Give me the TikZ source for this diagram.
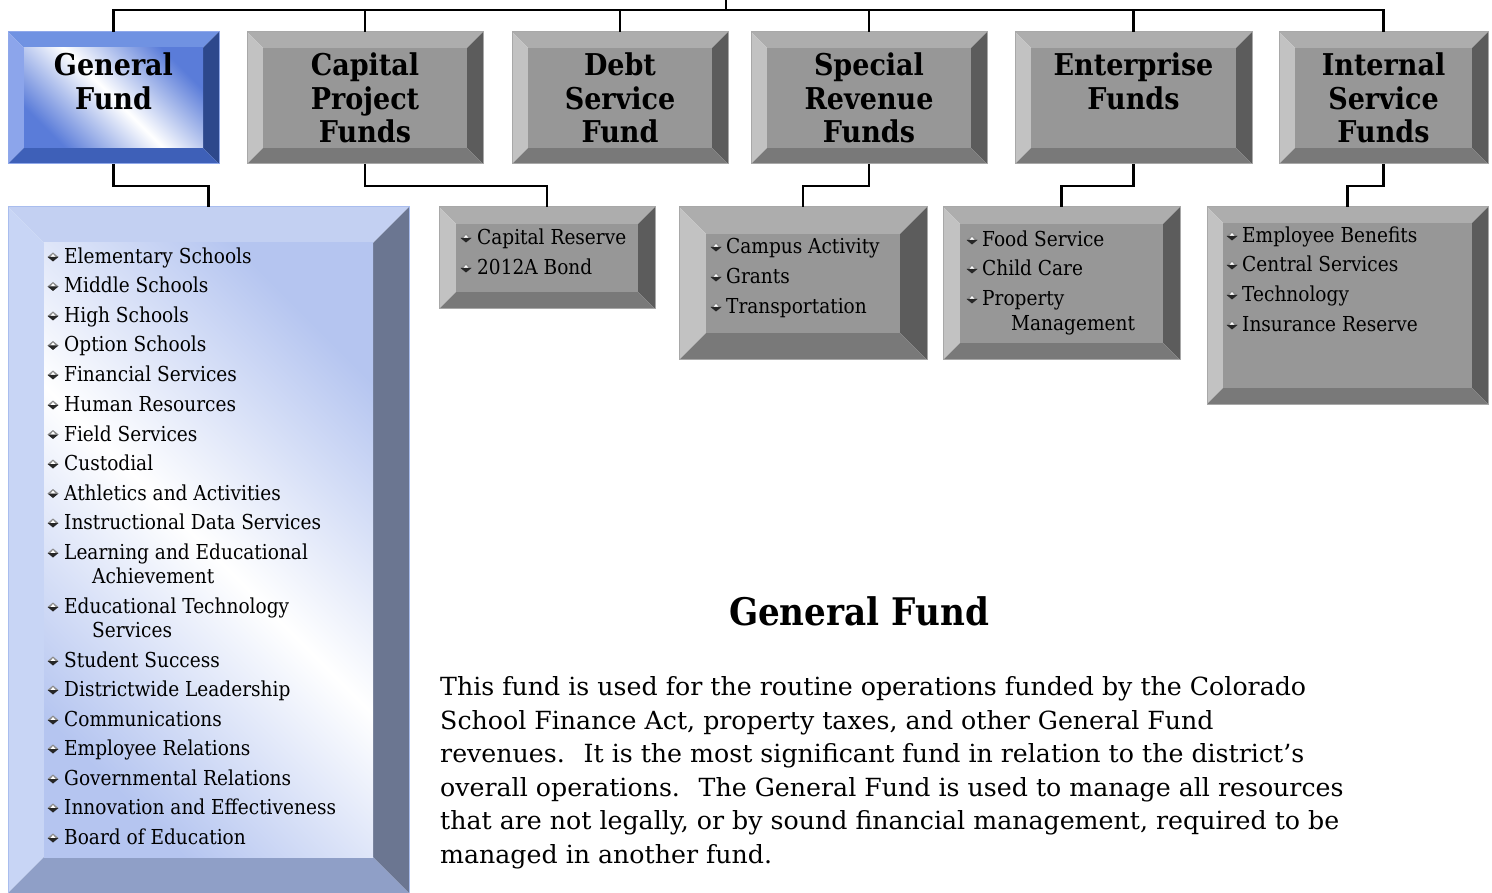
\documentclass[tikz,border=0pt]{standalone}
\usepackage{fontspec}
\setmainfont{DejaVu Serif}[FakeStretch=0.9]
\newfontfamily\parfont{DejaVu Serif}[FakeStretch=1.01]
\usetikzlibrary{calc}
\definecolor{gtop}{HTML}{ADADAD}
\definecolor{gleft}{HTML}{C2C2C2}
\definecolor{gright}{HTML}{5C5C5C}
\definecolor{gbot}{HTML}{797979}
\definecolor{gface}{HTML}{979797}
\definecolor{gline}{HTML}{A8A8A8}
\definecolor{btop}{HTML}{7092E2}
\definecolor{bleft}{HTML}{8CA5EB}
\definecolor{bright}{HTML}{2D488C}
\definecolor{bbot}{HTML}{3E60B8}
\definecolor{bface}{HTML}{5A7CD9}
\definecolor{bline}{HTML}{8FA8EA}
\definecolor{ltop}{HTML}{C3D0F2}
\definecolor{lleft}{HTML}{C8D5F5}
\definecolor{lright}{HTML}{6B7691}
\definecolor{lbot}{HTML}{8F9FC7}
\definecolor{lface}{HTML}{B5C5F0}
\definecolor{lline}{HTML}{A9BDEE}
\newcommand\bevelbox[8]{%
 % #1 name, #2 bevel, #3 top, #4 left, #5 right, #6 bottom, #7 face style, #8 outline
 \fill[#3] (#1.north west) -- (#1.north east) -- ([shift={(-#2,#2)}]#1.north east) -- ([shift={(#2,#2)}]#1.north west) -- cycle;
 \fill[#4] (#1.north west) -- ([shift={(#2,#2)}]#1.north west) -- ([shift={(#2,-#2)}]#1.south west) -- (#1.south west) -- cycle;
 \fill[#5] (#1.north east) -- ([shift={(-#2,#2)}]#1.north east) -- ([shift={(-#2,-#2)}]#1.south east) -- (#1.south east) -- cycle;
 \fill[#6] (#1.south west) -- ([shift={(#2,-#2)}]#1.south west) -- ([shift={(-#2,-#2)}]#1.south east) -- (#1.south east) -- cycle;
 \path[#7] ([shift={(#2,#2)}]#1.north west) rectangle ([shift={(-#2,-#2)}]#1.south east);
 \draw[#8, line width=1pt] (#1.north west) rectangle (#1.south east);
}
\newcommand\bul[2]{%
 \fill[black!45] (#1-5.5,#2) -- (#1,#2-4.5) -- (#1+5.5,#2) -- cycle;
 \fill[white] (#1-2.5,#2) -- (#1,#2-3) -- (#1+2.5,#2) -- cycle;
 \fill[black!85] (#1-5.5,#2) -- (#1,#2+4.5) -- (#1+5.5,#2) -- cycle;
}
\tikzset{
 boxnode/.style={rectangle, draw=none, inner sep=0pt, outer sep=0pt, anchor=north west},
 conn/.style={line width=2.2pt, black},
 tl/.style={anchor=base, inner sep=0pt, font=\fontsize{30}{34}\selectfont\bfseries},
 lt/.style={anchor=base west, inner sep=0pt, font=\fontsize{20.6}{24}\selectfont},
 pt/.style={anchor=base west, inner sep=0pt, font=\parfont\fontsize{25}{30}\selectfont},
 ttl/.style={anchor=base, inner sep=0pt, font=\fontsize{38}{42}\selectfont\bfseries},
 grayface/.style={fill=gface},
 blueface/.style={shade, top color=bface, bottom color=bface, middle color=white, shading angle=-45},
 lightface/.style={shade, top color=lface, bottom color=lface, middle color=white, shading angle=-45},
}
\begin{document}
\begin{tikzpicture}[x=1pt,y=-1pt]
\useasboundingbox (0,0) rectangle (1492,893);
% top-row boxes
\node[boxnode, minimum width=211, minimum height=132] (gf) at (8,32) {};
\node[boxnode, minimum width=236, minimum height=132] (cp) at (247,32) {};
\node[boxnode, minimum width=216, minimum height=132] (ds) at (512,32) {};
\node[boxnode, minimum width=236, minimum height=132] (sr) at (751,32) {};
\node[boxnode, minimum width=237, minimum height=132] (ef) at (1015,32) {};
\node[boxnode, minimum width=209, minimum height=132] (is) at (1279,32) {};
% second-row boxes
\node[boxnode, minimum width=401, minimum height=686] (gfl) at (8,207) {};
\node[boxnode, minimum width=216, minimum height=102] (cpl) at (439,207) {};
\node[boxnode, minimum width=248, minimum height=153] (srl) at (679,207) {};
\node[boxnode, minimum width=237, minimum height=153] (efl) at (943,207) {};
\node[boxnode, minimum width=281, minimum height=197] (isl) at (1207,207) {};

\bevelbox{gf}{16}{btop}{bleft}{bright}{bbot}{blueface}{bline}
\foreach \n in {cp,ds,sr,ef,is} {\bevelbox{\n}{16}{gtop}{gleft}{gright}{gbot}{grayface}{gline}}
\bevelbox{gfl}{36}{ltop}{lleft}{lright}{lbot}{lightface}{lline}
\bevelbox{cpl}{17}{gtop}{gleft}{gright}{gbot}{grayface}{gline}
\bevelbox{srl}{27}{gtop}{gleft}{gright}{gbot}{grayface}{gline}
\bevelbox{efl}{17}{gtop}{gleft}{gright}{gbot}{grayface}{gline}
\bevelbox{isl}{16}{gtop}{gleft}{gright}{gbot}{grayface}{gline}

% connectors
\coordinate (root) at (726,0);
\coordinate (bus) at (726,10);
\draw[conn] (root) -- (bus);
\foreach \n in {gf,cp,ds,sr,ef,is} {\draw[conn] (\n.north) |- (bus);}
\foreach \a/\b in {gf/gfl,cp/cpl,sr/srl,ef/efl,is/isl} {\draw[conn] (\a.south) -- ++(0,22) -| (\b.north);}

% top labels
\node[tl] (gft1) at (113.5,76) {General};
\node[tl] (gft2) at (113.5,109.5) {Fund};
\node[tl] (cpt1) at (365,76) {Capital};
\node[tl] (cpt2) at (365,109.5) {Project};
\node[tl] (cpt3) at (365,143) {Funds};
\node[tl] (dst1) at (620,76) {Debt};
\node[tl] (dst2) at (620,109.5) {Service};
\node[tl] (dst3) at (620,143) {Fund};
\node[tl] (srt1) at (869,76) {Special};
\node[tl] (srt2) at (869,109.5) {Revenue};
\node[tl] (srt3) at (869,143) {Funds};
\node[tl] (eft1) at (1133.5,76) {Enterprise};
\node[tl] (eft2) at (1133.5,109.5) {Funds};
\node[tl] (ist1) at (1383.5,76) {Internal};
\node[tl] (ist2) at (1383.5,109.5) {Service};
\node[tl] (ist3) at (1383.5,143) {Funds};

% general fund list
\foreach \t/\y [count=\i] in {Elementary Schools/256, Middle Schools/285.5, High Schools/315, Option Schools/344.5, Financial Services/374, Human Resources/404, Field Services/433.5, Custodial/463, Athletics and Activities/492.5, Instructional Data Services/522, Learning and Educational/552, Educational Technology/606, Student Success/660, Districtwide Leadership/689, Communications/719, Employee Relations/748, Governmental Relations/778, Innovation and Effectiveness/807, Board of Education/837} {
  \bul{53}{\y+1}
  \node[lt] (g\i) at (64,\y+7.5) {\t};
}
\node[lt] (gc1) at (92,583.5) {Achievement};
\node[lt] (gc2) at (92,637.5) {Services};

% capital list
\foreach \t/\y [count=\i] in {Capital Reserve/237, 2012A Bond/267} {
  \bul{466}{\y+1}
  \node[lt] (c\i) at (477,\y+7.5) {\t};
}
% special revenue list
\foreach \t/\y [count=\i] in {Campus Activity/246, Grants/276, Transportation/306} {
  \bul{716}{\y+1}
  \node[lt] (s\i) at (726,\y+7.5) {\t};
}
% enterprise list
\foreach \t/\y [count=\i] in {Food Service/239, Child Care/268, Property/298} {
  \bul{972}{\y+1}
  \node[lt] (e\i) at (982,\y+7.5) {\t};
}
\node[lt] (ec1) at (1011,330.5) {Management};
% internal list
\foreach \t/\y [count=\i] in {Employee Benefits/235, Central Services/264, Technology/294, Insurance Reserve/324} {
  \bul{1232}{\y+1}
  \node[lt] (n\i) at (1242,\y+7.5) {\t};
}

% title and paragraph
\node[ttl] (title) at (859,625) {General Fund};
\foreach \t/\y [count=\i] in {{This fund is used for the routine operations funded by the Colorado}/686, {School Finance Act, property taxes, and other General Fund}/720, {revenues.~ It is the most significant fund in relation to the district’s}/753, {overall operations.~ The General Fund is used to manage all resources}/787, {that are not legally, or by sound financial management, required to be}/820, {managed in another fund.}/854} {
  \node[pt] (p\i) at (440,\y+9.5) {\t};
}
\end{tikzpicture}
\end{document}
